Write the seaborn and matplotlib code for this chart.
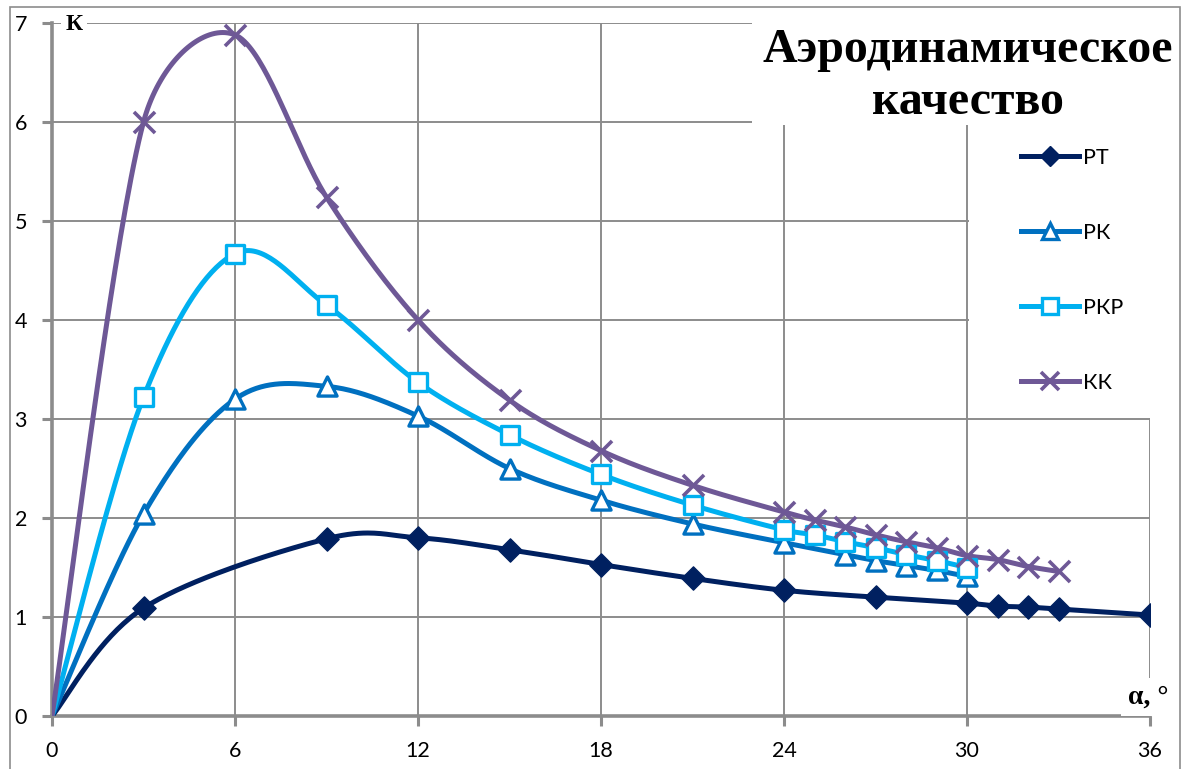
import numpy as np
import pandas as pd
import matplotlib
matplotlib.use("Agg")
import matplotlib.pyplot as plt
import seaborn as sns
from matplotlib.lines import Line2D
from matplotlib.patches import Rectangle

# ---- data ----
alpha_rt = [0, 3, 9, 12, 15, 18, 21, 24, 27, 30, 31, 32, 33, 36]
k_rt = [0, 1.09, 1.79, 1.80, 1.68, 1.53, 1.39, 1.27, 1.20, 1.14, 1.11, 1.10, 1.08, 1.02]

alpha_rk = [0, 3, 6, 9, 12, 15, 18, 21, 24, 26, 27, 28, 29, 30]
k_rk = [0, 2.04, 3.20, 3.33, 3.03, 2.50, 2.18, 1.94, 1.75, 1.63, 1.57, 1.52, 1.47, 1.41]

alpha_rkp = [0, 3, 6, 9, 12, 15, 18, 21, 24, 25, 26, 27, 28, 29, 30]
k_rkp = [0, 3.22, 4.67, 4.15, 3.37, 2.84, 2.44, 2.13, 1.88, 1.83, 1.76, 1.70, 1.63, 1.57, 1.50]

alpha_kk = [0, 3, 6, 9, 12, 15, 18, 21, 24, 25, 26, 27, 28, 29, 30, 31, 32, 33]
k_kk = [0, 6.00, 6.88, 5.24, 4.00, 3.19, 2.68, 2.33, 2.06, 1.98, 1.91, 1.83, 1.76, 1.70, 1.62, 1.58, 1.51, 1.46]

series_names = ["РТ", "РК", "РКР", "КК"]
x_ticks = [0, 6, 12, 18, 24, 30, 36]
y_ticks = [0, 1, 2, 3, 4, 5, 6, 7]
title_text = "Аэродинамическое\nкачество"
y_label = "К"
x_label = "α, °"

colors = ["#002060", "#0070C0", "#00B0F0", "#6E5896"]

W, H = 1184, 769
AX_W, AX_H = 1098, 693  # axes size in pixels
XR, YR = 36.0, 7.0


def smooth(x, y, n=40):
    """Excel-like smoothed line: Bezier segments through the points with
    Catmull-Rom tangents (1/6), limited to half the adjacent segment (pixel space)."""
    sx, sy = AX_W / XR, AX_H / YR
    P = np.column_stack([np.asarray(x, float) * sx, np.asarray(y, float) * sy])
    Pm = np.vstack([P[0], P, P[-1]])
    t = np.linspace(0, 1, n)[:, None]
    out = []
    for i in range(len(P) - 1):
        p0, p1, p2, p3 = Pm[i], Pm[i + 1], Pm[i + 2], Pm[i + 3]
        d12 = np.linalg.norm(p2 - p1)
        t1 = (p2 - p0) / 6.0
        t2 = (p3 - p1) / 6.0
        for tv in (t1, t2):
            L = np.linalg.norm(tv)
            if L > d12 / 2 and L > 0:
                tv *= (d12 / 2) / L
        b1 = p1 + t1
        b2 = p2 - t2
        seg = (1 - t) ** 3 * p1 + 3 * (1 - t) ** 2 * t * b1 + 3 * (1 - t) * t ** 2 * b2 + t ** 3 * p2
        out.append(seg if i == 0 else seg[1:])
    res = np.vstack(out)
    res[:, 0] /= sx
    res[:, 1] /= sy
    return res


fig = plt.figure(figsize=(W / 100, H / 100), dpi=100)
ax = fig.add_axes([52 / W, (H - 716) / H, AX_W / W, AX_H / H])

grid_c = "#8c8c8c"
ax.set_xlim(0, XR)
ax.set_ylim(0, YR)
ax.set_xticks(x_ticks)
ax.set_yticks(y_ticks)
ax.grid(True, color=grid_c, linewidth=1.4, zorder=0)
ax.set_axisbelow(True)
for s in ["top", "right"]:
    ax.spines[s].set_visible(False)
for s in ["left", "bottom"]:
    ax.spines[s].set_color(grid_c)
    ax.spines[s].set_linewidth(2.6)
ax.tick_params(direction="out", length=7, width=2.2, color=grid_c, pad=11,
               labelsize=15.5, labelcolor="black")
for lab in ax.get_xticklabels() + ax.get_yticklabels():
    lab.set_family("Lato")

series = [
    (alpha_rt, k_rt, "D", dict(s=140, facecolor=colors[0], edgecolor=colors[0], linewidth=1)),
    (alpha_rk, k_rk, "^", dict(s=190, facecolor="white", edgecolor=colors[1], linewidth=2.4)),
    (alpha_rkp, k_rkp, "s", dict(s=170, facecolor="white", edgecolor=colors[2], linewidth=2.4)),
    (alpha_kk, k_kk, "x", dict(s=230, color=colors[3], linewidth=2.6)),
]

lw = 3.6
for (xs, ys, m, kw), c in zip(series, colors):
    sm = smooth(xs, ys)
    df = pd.DataFrame({"a": sm[:, 0], "k": sm[:, 1]})
    sns.lineplot(data=df, x="a", y="k", sort=False, estimator=None, color=c,
                 linewidth=lw, ax=ax, zorder=3)
for (xs, ys, m, kw), c in zip(series, colors):
    # the origin point carries no marker in the reference
    dfp = pd.DataFrame({"a": xs[1:], "k": ys[1:]})
    sns.scatterplot(data=dfp, x="a", y="k", marker=m, ax=ax, zorder=4, **kw)

ax.set_xlabel("")
ax.set_ylabel("")

# white panels behind title and legend (as in the reference)
fig.add_artist(Rectangle((752 / W, 1 - 125 / H), (1179 - 752) / W, (125 - 8) / H,
                         transform=fig.transFigure, facecolor="white", edgecolor="none", zorder=5))
fig.add_artist(Rectangle((969 / W, 1 - 418 / H), (1179 - 969) / W, (418 - 125) / H,
                         transform=fig.transFigure, facecolor="white", edgecolor="none", zorder=5))

# legend
handles = [
    Line2D([], [], color=colors[0], lw=lw, marker="D", ms=10.5, mfc=colors[0], mec=colors[0]),
    Line2D([], [], color=colors[1], lw=lw, marker="^", ms=12, mfc="white", mec=colors[1], mew=2.4),
    Line2D([], [], color=colors[2], lw=lw, marker="s", ms=11, mfc="white", mec=colors[2], mew=2.4),
    Line2D([], [], color=colors[3], lw=lw, marker="x", ms=13, mec=colors[3], mew=2.6),
]
leg = fig.legend(handles, series_names, loc="upper left",
                 bbox_to_anchor=(1021 / W, 1 - 148 / H), frameon=False,
                 borderpad=0, borderaxespad=0, handlelength=2.7, handletextpad=0.2,
                 labelspacing=2.55, prop={"family": "Lato", "size": 15.5})
leg.set_zorder(6)

# title
fig.text(968 / W, 1 - 76 / H, title_text, ha="center", va="center",
         family="Liberation Serif", weight="bold", fontsize=34.5, linespacing=1.22, zorder=7)

# axis labels
fig.text(74 / W, 1 - 25 / H, y_label, ha="center", va="center", family="Liberation Serif",
         weight="bold", fontsize=17, zorder=7,
         bbox=dict(facecolor="white", edgecolor="none", pad=3))
fig.text(1148 / W, 1 - 697 / H, x_label, ha="center", va="center", family="Liberation Serif",
         weight="bold", fontsize=20, zorder=7,
         bbox=dict(facecolor="white", edgecolor="none", pad=5))

# outer chart border
fig.add_artist(Rectangle((10 / W, -0.05), (1180 - 10) / W, 1.05 - 7 / H,
                         transform=fig.transFigure, fill=False, edgecolor=grid_c,
                         linewidth=1.2, zorder=8))

fig.savefig("out.png", dpi=100)
